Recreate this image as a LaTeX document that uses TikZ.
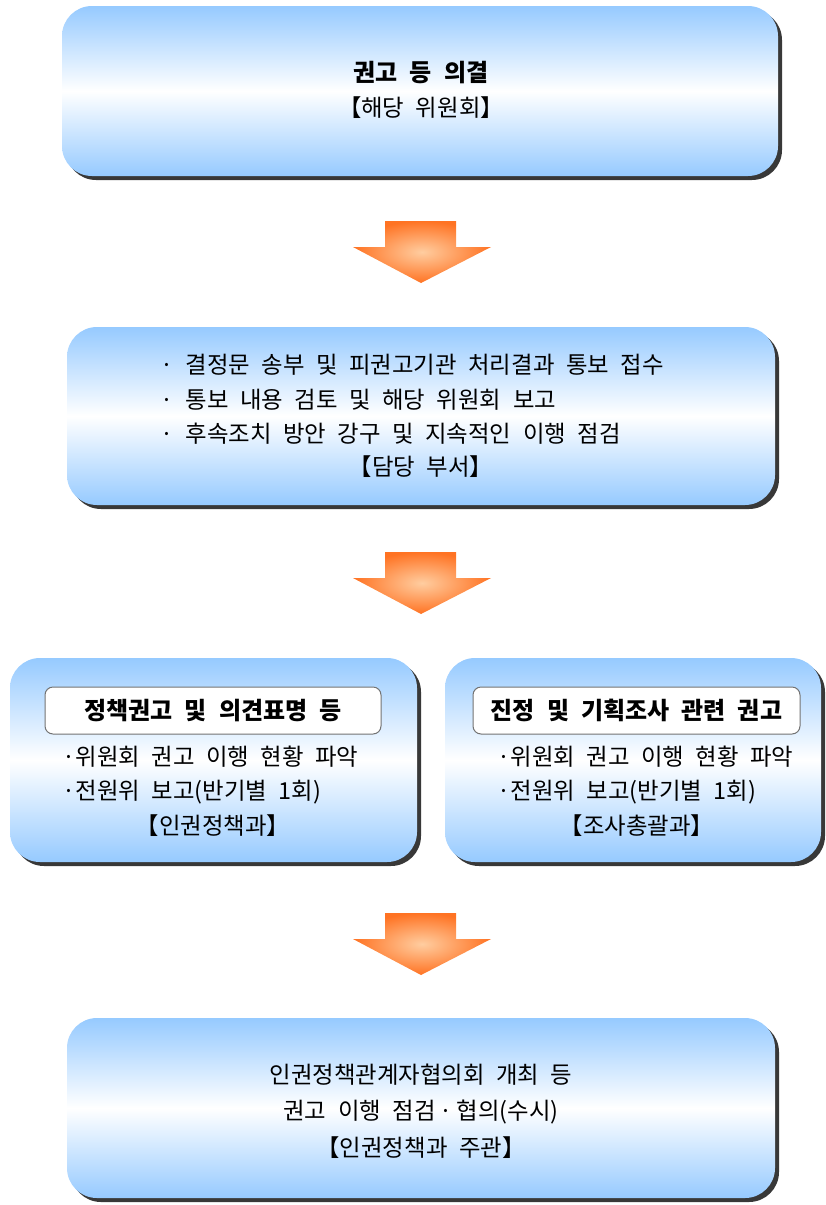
\documentclass[tikz,border=0pt]{standalone}
\usepackage{fontspec}
\setmainfont{Noto Sans CJK KR}[WordSpace=2.2]
\usetikzlibrary{fit,shadows}
\definecolor{boxblue}{RGB}{150,202,255}
\definecolor{arrin}{RGB}{255,205,160}
\definecolor{arrout}{RGB}{255,115,35}
\tikzset{
  bigbox/.style={rounded corners=15pt, inner sep=0pt,
    top color=boxblue, bottom color=boxblue, middle color=white,
    drop shadow={shadow xshift=2pt, shadow yshift=-2pt, fill=black!78, opacity=1}},
  titlebox/.style={rounded corners=4pt, inner sep=0pt, draw=black!55, line width=0.5pt, fill=white},
  downarrow/.style={inner color=arrin, outer color=arrout},
  txt/.style={font=\fontsize{11.7}{14}\selectfont, inner sep=0pt},
  btxt/.style={font=\fontsize{12}{14}\selectfont\bfseries, inner sep=0pt},
}
\begin{document}
\begin{tikzpicture}[x=0.5pt,y=-0.5pt]
\useasboundingbox (0,0) rectangle (825,1205);
% boxes
\node[bigbox, fit={(62,6) (778,176)}] (b1) {};
\node[bigbox, fit={(67,327) (775,505)}] (b2) {};
\node[bigbox, fit={(10,658) (417,862)}] (b3) {};
\node[bigbox, fit={(445,658) (821,862)}] (b4) {};
\node[bigbox, fit={(67,1018) (775,1198)}] (b5) {};
% arrows
\foreach \dy/\nm in {0/a1,331/a2,692/a3}{
  \shade[downarrow] (385,221+\dy) -- (456,221+\dy) -- (456,247+\dy) -- (491,247+\dy)
     -- (421,283+\dy) -- (353,247+\dy) -- (385,247+\dy) -- cycle;
}
% box 1
\node[btxt] (t1) at (421,73) {권고 등 의결};
\node[txt] (t2) at (421,108) {【해당 위원회】};
% box 2
\node[txt, anchor=west] (l1) at (160,365) {·\hspace{6pt}결정문 송부 및 피권고기관 처리결과 통보 접수};
\node[txt, anchor=west] (l2) at (160,400) {·\hspace{6pt}통보 내용 검토 및 해당 위원회 보고};
\node[txt, anchor=west] (l3) at (160,434) {·\hspace{6pt}후속조치 방안 강구 및 지속적인 이행 점검};
\node[txt] (l4) at (421,467) {【담당 부서】};
% left box
\node[titlebox, fit={(45,687) (381,734)}] (tb1) {};
\node[btxt] at (tb1) {정책권고 및 의견표명 등};
\node[txt, anchor=west] (m1) at (62,757) {·위원회 권고 이행 현황 파악};
\node[txt, anchor=west] (m2) at (62,792) {·전원위 보고(반기별 1회)};
\node[txt] (m3) at (213,826) {【인권정책과】};
% right box
\node[titlebox, fit={(473,687) (800,734)}] (tb2) {};
\node[btxt] at (tb2) {진정 및 기획조사 관련 권고};
\node[txt, anchor=west] (r1) at (497,757) {·위원회 권고 이행 현황 파악};
\node[txt, anchor=west] (r2) at (497,792) {·전원위 보고(반기별 1회)};
\node[txt] (r3) at (637,826) {【조사총괄과】};
% bottom box
\node[txt] (n1) at (421,1075) {인권정책관계자협의회 개최 등};
\node[txt] (n2) at (421,1112) {권고 이행 점검\,·\,협의(수시)};
\node[txt] (n3) at (421,1148) {【인권정책과 주관】};
\end{tikzpicture}
\end{document}
